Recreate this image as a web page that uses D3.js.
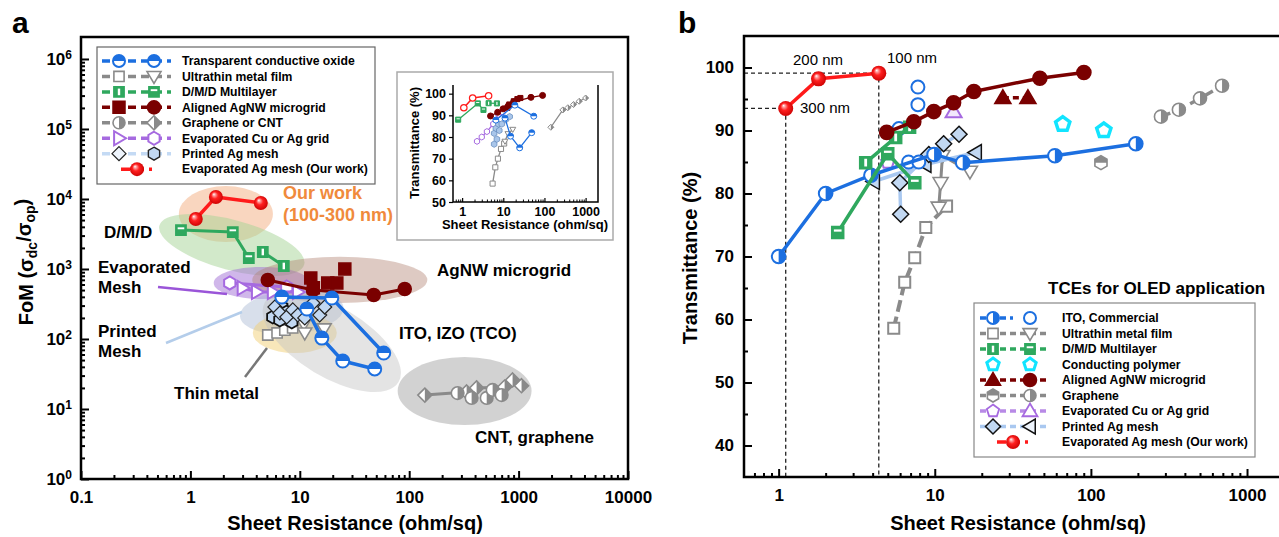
<!DOCTYPE html>
<html><head><meta charset="utf-8">
<script src="https://cdn.jsdelivr.net/npm/d3@7"></script>
<style>body{margin:0;background:#fff}svg{display:block}text{font-family:"Liberation Sans",Arial,sans-serif}</style>
</head><body><svg id="c" width="1279" height="537"></svg>
<script>
// ================= Panel a: FoM vs sheet resistance =================
const aOurR=[1.12,1.71,4.4], aOurF=[5170,10700,8770];
const aDmdVR=[4.59,7.14], aDmdVF=[1750,1104];
const aDmdHR=[0.82,2.44,3.42], aDmdHF=[3600,3370,1436];
const aTco1R=[6.85,19.6,58.5], aTco1F=[398,385,63];
const aTco2R=[11.6,15.9,24.7,48.4], aTco2F=[268,103,48.5,37.3];
const aAgCircR=[5.1,13.2,47.4,91], aAgCircF=[697,500,425,518];
const aAgSqR=[12.6,13.3,18,21.8,25.8], aAgSqF=[744,540,631,631,1000];
const aThinSqR=[5.1,6.2,7.3,8.6], aThinSqF=[114,122,134,144];
const aThinTriR=[10.9,11.1,16.7], aThinTriF=[164,122,140];
const aPrDiaR=[5.92,6.57,7.6,8.63,9.59,11.1,13.2,15.2,16.9], aPrDiaF=[286,235,206,260,220,200,327,220,286];
const aPrHexR=[5.66,6.57,6.85,7.6,8.45], aPrHexF=[206,187,286,243,175];
const aEvTriR=[3.0,4.05,5.66,9.6], aEvTriF=[535,469,469,469];
const aEvHexR=[2.29,7.6], aEvHexF=[631,553];
const aGrCircR=[277,372,511,579,700], aGrCircF=[16.9,14.4,14.4,18.7,15.8];
const aCntDiaR=[139,335,413,745,881,1064], aCntDiaF=[15.8,17.5,20,20.6,26,21.5];
// category ellipses (center R, center FoM, radii in decades, rotation deg)
const ellCR=[2.11,2.39,4.5,23.2,8.45,9.0,19.6,321];
const ellCF=[6100,2200,631,697,243,122,90.6,18.1];
const ellRX=[0.43,0.685,0.44,0.80,0.475,0.384,0.712,0.612];
const ellRY=[0.40,0.357,0.23,0.33,0.314,0.286,0.50,0.486];
const ellRot=[0,15,0,0,-5,0,31,0];
const ellCol=['#f4ae80','#a6d496','#a270d6','#b08070','#a9b9d2','#f2d075','#c4c4c4','#b4b4b4'];
const ellOp=[0.5,0.5,0.5,0.42,0.45,0.5,0.45,0.6];
const aXTicks=[0.1,1,10,100,1000,10000];
const aYTicks=[1,10,100,1e3,1e4,1e5,1e6];
// inset: transmittance vs sheet resistance
const iOurR=[1.1,1.8,4.4], iOurT=[93.5,98,99];
const iDmdHR=[0.8,2.4,3.3], iDmdHT=[88,95.5,92.5];
const iDmdVR=[4.4,7.0], iDmdVT=[95.6,95.5];
const iAgCircR=[4.9,7.3,9.9,13.2,17.8,47,90], iAgCircT=[89.7,91.4,93,94.4,96.2,98.3,99.2];
const iAgSqR=[12.6,14,18,22,26], iAgSqT=[93.5,95,96.5,97.5,98];
const iTco1R=[6.6,19.1,55], iTco1T=[87.8,94.7,89.6];
const iTco2R=[11,15,25,49], iTco2T=[88.7,80.4,75,82];
const iThinSqR=[5.5,6.4,7.4,8.8,10.5], iThinSqT=[58.5,66,70,74.5,77];
const iThinTriR=[11,13,17], iThinTriT=[78,81.5,83.5];
const iEvR=[2.3,3,4,5.7,7.6,9.6], iEvT=[78,80,82.5,86,90.5,91.5];
const iPrR=[6,6,6.6,7,7.6,8,9.2,11.4,14.3], iPrT=[76.7,81.7,84,79,86,83,86,88,89.4];
const iCntR=[143,280,370,510,700,1000], iCntT=[84.5,92.5,93.5,95,96.5,98];
const iXTicks=[1,10,100,1000], iYTicks=[50,60,70,80,90,100];
// ================= Panel b: transmittance vs sheet resistance =================
const bOurR=[1.11,1.8,4.38], bOurT=[93.5,98.2,99.1];
const bItoR=[1,2,3.9,9.9,15.1,58.8,194], bItoT=[70,80,82.9,86.2,84.9,86,87.9];
const bItoCR=[7.8,7.8,5.9,6.8,7.9], bItoCT=[96.9,94.1,90.3,85,85];
const bThinSqR=[5.46,6.42,7.44,8.76,11.9], bThinSqT=[58.6,65.9,69.8,74.6,78];
const bThinTriR=[10.6,10.9,11.2,16.8], bThinTriT=[77.8,81.7,86,83.5];
const bDmdVR=[3.61,5.62,6.9], bDmdVT=[84.9,88.9,90.5];
const bDmdHR=[2.39,5.0,7.45], bDmdHT=[73.8,86.3,81.7];
const bCpR=[66,121], bCpT=[91,90];
const bAgCircR=[4.92,7.34,9.86,13.2,17.8,47.1,90.2], bAgCircT=[89.7,91.4,93,94.4,96.2,98.3,99.2];
const bAgTriR=[27.3,39.5], bAgTriT=[95.2,95.2];
const bGrCircR=[281,366,500,692], bGrCircT=[92.2,93.3,95.1,97.1];
const bGrHexR=[116], bGrHexT=[84.9];
const bEvPentR=[5.0], bEvPentT=[85];
const bEvTriR=[13.2], bEvTriT=[93];
const bPrDiaR=[6.05,5.97,9.16,11.4,14.3], bPrDiaT=[76.7,81.7,86.2,87.9,89.4];
const bPrTriR=[4.07,8.7,18.3], bPrTriT=[81.9,84.6,86.5];
const bXTicks=[1,10,100,1000];
const bYTicks=[40,50,60,70,80,90,100];

// ---------------- colours ----------------
const C={blue:'#1c6fe0',grey:'#8a8a8a',green:'#2fa85e',dred:'#7a0000',purple:'#a66ae0',lblue:'#c2d8f2',lbline:'#a9c8f0',red:'#ff1a1a',cyan:'#12e4ff',orange:'#f08a3c'};

const svg=d3.select('#c');
const defs=svg.append('defs');
[['cTop',-50,-50,100,50],['cLeft',-50,-50,50,100],['cRight',0,-50,50,100]].forEach(([id,x,y,w,h])=>{
  defs.append('clipPath').attr('id',id).append('rect').attr('x',x).attr('y',y).attr('width',w).attr('height',h);
});
const g0=defs.append('radialGradient').attr('id','sph').attr('cx','50%').attr('cy','50%').attr('r','55%').attr('fx','35%').attr('fy','30%');
[['0%','#ffffff'],['18%','#ff9a9a'],['45%','#ff2020'],['100%','#c80000']].forEach(([o,c])=>g0.append('stop').attr('offset',o).attr('stop-color',c));

function polyPts(n,r,rot){const p=[];for(let k=0;k<n;k++){const a=(rot+360*k/n)*Math.PI/180;p.push([r*Math.cos(a),r*Math.sin(a)]);}return 'M'+p.map(q=>q[0].toFixed(2)+','+q[1].toFixed(2)).join('L')+'Z';}
function shapePath(s,r){
  switch(s){
    case 'circle': return `M${-r},0A${r},${r} 0 1,0 ${r},0A${r},${r} 0 1,0 ${-r},0Z`;
    case 'square': {const a=r*0.85;return `M${-a},${-a}H${a}V${a}H${-a}Z`;}
    case 'triDown': return `M${-r},${-r*0.7}L${r},${-r*0.7}L0,${r}Z`;
    case 'triUp': return `M${-r},${r*0.7}L${r},${r*0.7}L0,${-r}Z`;
    case 'triRight': return `M${-r*0.7},${-r}L${-r*0.7},${r}L${r},0Z`;
    case 'triLeft': return `M${r*0.7},${-r}L${r*0.7},${r}L${-r},0Z`;
    case 'diamond': return `M0,${-r}L${r},0L0,${r}L${-r},0Z`;
    case 'hexagon': return polyPts(6,r,-90);
    case 'pentagon': return polyPts(5,r,-90);
  }
}
function drawMarker(g,x,y,m){
  const gg=g.append('g').attr('transform',`translate(${x},${y})`);
  const r=m.r;
  if(m.fill==='sphere'){gg.append('circle').attr('r',r).attr('fill','url(#sph)');return;}
  const d=shapePath(m.shape,r);
  const solid=(m.fill==='full'||m.fill==='vbar'||m.fill==='hbar');
  gg.append('path').attr('d',d).attr('fill',solid?m.color:(m.bg||'#fff'));
  if(m.fill==='halfTop')gg.append('path').attr('d',d).attr('fill',m.color).attr('clip-path','url(#cTop)');
  if(m.fill==='halfLeft')gg.append('path').attr('d',d).attr('fill',m.color).attr('clip-path','url(#cLeft)');
  if(m.fill==='halfRight')gg.append('path').attr('d',d).attr('fill',m.color).attr('clip-path','url(#cRight)');
  if(m.fill==='vbar')gg.append('rect').attr('x',-r*0.2).attr('y',-r*0.55).attr('width',r*0.4).attr('height',r*1.1).attr('fill','#fff');
  if(m.fill==='hbar')gg.append('rect').attr('x',-r*0.55).attr('y',-r*0.45).attr('width',r*1.1).attr('height',r*0.32).attr('fill','#fff');
  gg.append('path').attr('d',d).attr('fill','none').attr('stroke',m.stroke||m.color).attr('stroke-width',m.sw||1.6);
}
function drawSeries(g,xs,ys,R,V,mk,ln){
  const pts=R.map((r,i)=>[xs(r),ys(V[i])]);
  if(ln){g.append('path').attr('d',d3.line()(pts)).attr('fill','none').attr('stroke',ln.color).attr('stroke-width',ln.w||3).attr('stroke-dasharray',ln.dash||null).attr('stroke-linejoin','round');}
  pts.forEach(p=>drawMarker(g,p[0],p[1],mk));
}
function logMinor(lo,hi){const a=[];for(let e=Math.floor(Math.log10(lo));e<Math.ceil(Math.log10(hi));e++)for(let k=2;k<=9;k++){const v=k*Math.pow(10,e);if(v>lo*1.0001&&v<hi)a.push(v);}return a;}
function styleAxis(g,fs){g.select('.domain').remove();g.selectAll('.tick line').attr('stroke','#000').attr('stroke-width',2);g.selectAll('text').attr('font-size',fs).attr('font-weight','bold').attr('fill','#000').attr('font-family','"Liberation Sans",Arial,sans-serif');}
function txt(g,x,y,s,o={}){return g.append('text').attr('x',x).attr('y',y).attr('font-size',o.fs||16).attr('font-weight',o.fw||'bold').attr('fill',o.color||'#000').attr('text-anchor',o.anchor||'start').text(s);}

// ================= Panel a =================
const A={l:81,r:628,t:37,b:479};
const xa=d3.scaleLog().domain([0.1,10000]).range([A.l,A.r]);
const ya=d3.scaleLog().domain([1,Math.pow(10,6.314)]).range([A.b,A.t]);
const decX=(A.r-A.l)/5, decY=ya(1)-ya(10);
const pa=svg.append('g');
// ellipses
const ge=pa.append('g');
ellCR.forEach((cr,i)=>{
  const cx=xa(cr),cy=ya(ellCF[i]);
  ge.append('ellipse').attr('cx',0).attr('cy',0).attr('rx',ellRX[i]*decX).attr('ry',ellRY[i]*decY)
    .attr('transform',`translate(${cx},${cy}) rotate(${ellRot[i]})`).attr('fill',ellCol[i]).attr('fill-opacity',ellOp[i]);
});
// pointer lines for labels
pa.append('line').attr('x1',158).attr('y1',287).attr('x2',227).attr('y2',294).attr('stroke','#9a55d8').attr('stroke-width',2.5);
pa.append('line').attr('x1',166).attr('y1',343).attr('x2',242).attr('y2',312).attr('stroke','#b4cdea').attr('stroke-width',2.5);
pa.append('line').attr('x1',245).attr('y1',377).attr('x2',267).attr('y2',348).attr('stroke','#777').attr('stroke-width',2.5);
// series
const sa=pa.append('g');
drawSeries(sa,xa,ya,aCntDiaR,aCntDiaF,{shape:'diamond',r:7,color:C.grey,fill:'halfRight'},{color:C.grey,w:3});
drawSeries(sa,xa,ya,aGrCircR,aGrCircF,{shape:'circle',r:6.3,color:C.grey,fill:'halfRight'},null);
drawSeries(sa,xa,ya,aThinSqR,aThinSqF,{shape:'square',r:6,color:C.grey,fill:'open'},{color:C.grey,w:2.5});
drawSeries(sa,xa,ya,aThinTriR,aThinTriF,{shape:'triDown',r:7,color:C.grey,fill:'open'},null);
drawSeries(sa,xa,ya,aPrHexR,aPrHexF,{shape:'hexagon',r:6.5,color:'#111',fill:'open',bg:C.lblue,sw:1.8},null);
drawSeries(sa,xa,ya,aPrDiaR,aPrDiaF,{shape:'diamond',r:7,color:'#222',fill:'open',bg:C.lblue,sw:1.2},null);
drawSeries(sa,xa,ya,aEvHexR,aEvHexF,{shape:'hexagon',r:6.5,color:C.purple,fill:'open',sw:2},{color:C.purple,w:3});
drawSeries(sa,xa,ya,aEvTriR,aEvTriF,{shape:'triRight',r:7,color:C.purple,fill:'open',sw:2},{color:C.purple,w:3});
drawSeries(sa,xa,ya,aAgSqR,aAgSqF,{shape:'square',r:7,color:C.dred,fill:'full'},null);
drawSeries(sa,xa,ya,aAgCircR,aAgCircF,{shape:'circle',r:6.5,color:C.dred,fill:'full'},{color:C.dred,w:3});
drawSeries(sa,xa,ya,aTco1R,aTco1F,{shape:'circle',r:6.5,color:C.blue,fill:'halfTop',sw:2},{color:C.blue,w:3.5});
drawSeries(sa,xa,ya,aTco2R,aTco2F,{shape:'circle',r:6.5,color:C.blue,fill:'halfTop',sw:2},{color:C.blue,w:3.5});
drawSeries(sa,xa,ya,aDmdHR,aDmdHF,{shape:'square',r:6,color:C.green,fill:'hbar'},{color:C.green,w:3});
drawSeries(sa,xa,ya,aDmdVR,aDmdVF,{shape:'square',r:6,color:C.green,fill:'vbar'},{color:C.green,w:3});
drawSeries(sa,xa,ya,aOurR,aOurF,{r:7,fill:'sphere'},{color:C.red,w:3.5});
// annotations
txt(pa,283,199,'Our work',{fs:18,color:C.orange});
txt(pa,283,221,'(100-300 nm)',{fs:18,color:C.orange});
txt(pa,104,238,'D/M/D',{fs:17});
txt(pa,98,273,'Evaporated',{fs:17});txt(pa,98,293,'Mesh',{fs:17});
txt(pa,98,337,'Printed',{fs:17});txt(pa,98,357,'Mesh',{fs:17});
txt(pa,174,399,'Thin metal',{fs:17});
txt(pa,437,276,'AgNW microgrid',{fs:17});
txt(pa,399,339,'ITO, IZO (TCO)',{fs:17});
txt(pa,475,443,'CNT, graphene',{fs:17});
// frame + axes
pa.append('rect').attr('x',A.l).attr('y',A.t).attr('width',A.r-A.l).attr('height',A.b-A.t).attr('fill','none').attr('stroke','#000').attr('stroke-width',2.5);
const gxa=pa.append('g').attr('transform',`translate(0,${A.b})`).call(d3.axisBottom(xa).tickValues(aXTicks).tickFormat(d=>String(d)).tickSize(-8).tickPadding(12));
styleAxis(gxa,17);
const gxam=pa.append('g').attr('transform',`translate(0,${A.b})`).call(d3.axisBottom(xa).tickValues(logMinor(0.1,10000)).tickFormat('').tickSize(-4));
styleAxis(gxam,1);
const gya=pa.append('g').attr('transform',`translate(${A.l},0)`).call(d3.axisLeft(ya).tickValues(aYTicks).tickFormat('').tickSize(-8).tickPadding(9));
styleAxis(gya,17);
gya.selectAll('.tick').each(function(d){
  const t=d3.select(this).append('text').attr('x',-9).attr('y',0).attr('dy','0.35em').attr('text-anchor','end').attr('font-size',17).attr('font-weight','bold').attr('fill','#000');
  t.append('tspan').text('10');
  t.append('tspan').attr('dy','-0.55em').attr('font-size',12).text(Math.round(Math.log10(d)));
});
const gyam=pa.append('g').attr('transform',`translate(${A.l},0)`).call(d3.axisLeft(ya).tickValues(logMinor(1,1e6)).tickFormat('').tickSize(-4));
styleAxis(gyam,1);
txt(pa,355,530,'Sheet Resistance (ohm/sq)',{fs:20,anchor:'middle'});
const yla=pa.append('text').attr('transform','translate(33,262) rotate(-90)').attr('text-anchor','middle').attr('font-size',20).attr('font-weight','bold');
yla.append('tspan').text('FoM (σ');
yla.append('tspan').attr('dy','0.3em').attr('font-size',14).text('dc');
yla.append('tspan').attr('dy','-0.3em').text('/σ');
yla.append('tspan').attr('dy','0.3em').attr('font-size',14).text('op');
yla.append('tspan').attr('dy','-0.3em').text(')');
txt(svg,12,33,'a',{fs:30});

// legend a
const LA=pa.append('g');
LA.append('rect').attr('x',97).attr('y',47).attr('width',278).attr('height',137).attr('fill','#fff').attr('stroke','#666').attr('stroke-width',1.2);
const legA=[
 ['Transparent conductive oxide',C.blue,{shape:'circle',r:6,color:C.blue,fill:'halfTop',sw:2},{shape:'circle',r:6,color:C.blue,fill:'halfTop',sw:2}],
 ['Ultrathin metal film',C.grey,{shape:'square',r:6,color:C.grey,fill:'open'},{shape:'triDown',r:7,color:C.grey,fill:'open'}],
 ['D/M/D Multilayer',C.green,{shape:'square',r:6,color:C.green,fill:'vbar'},{shape:'square',r:6,color:C.green,fill:'hbar'}],
 ['Aligned AgNW microgrid',C.dred,{shape:'square',r:7,color:C.dred,fill:'full'},{shape:'circle',r:6.5,color:C.dred,fill:'full'}],
 ['Graphene or CNT',C.grey,{shape:'circle',r:6,color:C.grey,fill:'halfRight'},{shape:'diamond',r:7,color:C.grey,fill:'halfRight'}],
 ['Evaporated Cu or Ag grid',C.purple,{shape:'triRight',r:7,color:C.purple,fill:'open',sw:2},{shape:'hexagon',r:6.5,color:C.purple,fill:'open',sw:2}],
 ['Printed Ag mesh','#c4daf4',{shape:'diamond',r:7,color:'#222',fill:'open',bg:'#eef4fc',sw:1.2},{shape:'hexagon',r:6.5,color:'#222',fill:'open',bg:C.lblue,sw:1.4}],
 ['Evaporated Ag mesh (Our work)',C.red,{r:7,fill:'sphere'},null]
];
legA.forEach((row,i)=>{
  const y=61+i*15.45;
  if(row[3]){LA.append('line').attr('x1',102).attr('x2',171).attr('y1',y).attr('y2',y).attr('stroke',row[1]).attr('stroke-width',3.5).attr('stroke-dasharray','8,5');
    drawMarker(LA,119,y,row[2]);drawMarker(LA,154,y,row[3]);}
  else{LA.append('line').attr('x1',121).attr('x2',152).attr('y1',y).attr('y2',y).attr('stroke',row[1]).attr('stroke-width',3.5).attr('stroke-dasharray','9,5');drawMarker(LA,137,y,row[2]);}
  txt(LA,182,y+4.3,row[0],{fs:12.2});
});

// inset
const I={l:453,r:598,t:85,b:202};
const xi=d3.scaleLog().domain([0.6,2000]).range([I.l,I.r]);
const yi=d3.scaleLinear().domain([50,104]).range([I.b,I.t]);
const pi=svg.append('g');
pi.append('rect').attr('x',397).attr('y',72).attr('width',216).attr('height',168).attr('fill','#fff').attr('stroke','#aaa').attr('stroke-width',1.5);
const si=pi.append('g');
const sm=(shape,color,fill,bg)=>({shape,r:3,color,fill,bg,sw:1});
drawSeries(si,xi,yi,iCntR,iCntT,sm('diamond',C.grey,'halfRight'),{color:C.grey,w:1.3});
drawSeries(si,xi,yi,iThinSqR,iThinSqT,sm('square',C.grey,'open'),{color:C.grey,w:1.3});
drawSeries(si,xi,yi,iThinTriR,iThinTriT,sm('triDown',C.grey,'open'),{color:C.grey,w:1.3});
drawSeries(si,xi,yi,iEvR,iEvT,sm('hexagon',C.purple,'open'),{color:C.purple,w:1.3});
drawSeries(si,xi,yi,iPrR,iPrT,{shape:'hexagon',r:3.2,color:'#6a8fc0',fill:'open',bg:'#a9c6ea',sw:0.8},null);
drawSeries(si,xi,yi,iAgSqR,iAgSqT,sm('square',C.dred,'full'),null);
drawSeries(si,xi,yi,iAgCircR,iAgCircT,sm('circle',C.dred,'full'),{color:C.dred,w:1.3});
drawSeries(si,xi,yi,iTco1R,iTco1T,sm('circle',C.blue,'halfTop'),{color:C.blue,w:1.3});
drawSeries(si,xi,yi,iTco2R,iTco2T,sm('circle',C.blue,'halfTop'),{color:C.blue,w:1.3});
drawSeries(si,xi,yi,iDmdHR,iDmdHT,sm('square',C.green,'hbar'),{color:C.green,w:1.3});
drawSeries(si,xi,yi,iDmdVR,iDmdVT,sm('square',C.green,'vbar'),{color:C.green,w:1.3});
drawSeries(si,xi,yi,iOurR,iOurT,{shape:'circle',r:3.2,color:C.red,fill:'open',sw:1.2},{color:C.red,w:1.5});
pi.append('path').attr('d',`M${I.l},${I.t}V${I.b}H${I.r}V${I.t}`).attr('fill','none').attr('stroke','#000').attr('stroke-width',1.5);
const gxi=pi.append('g').attr('transform',`translate(0,${I.b})`).call(d3.axisBottom(xi).tickValues(iXTicks).tickFormat(d=>String(d)).tickSize(-4).tickPadding(5));
styleAxis(gxi,12.5);gxi.selectAll('.tick line').attr('stroke-width',1.2);
const gxim=pi.append('g').attr('transform',`translate(0,${I.b})`).call(d3.axisBottom(xi).tickValues(logMinor(0.6,2000)).tickFormat('').tickSize(-2.5));
styleAxis(gxim,1);gxim.selectAll('.tick line').attr('stroke-width',1);
const gyi=pi.append('g').attr('transform',`translate(${I.l},0)`).call(d3.axisLeft(yi).tickValues(iYTicks).tickFormat(d=>String(d)).tickSize(4).tickPadding(3));
styleAxis(gyi,12.5);gyi.selectAll('.tick line').attr('stroke-width',1.2);
txt(pi,525,229,'Sheet Resistance (ohm/sq)',{fs:13,anchor:'middle'});
pi.append('text').attr('transform','translate(419,143) rotate(-90)').attr('text-anchor','middle').attr('font-size',13).attr('font-weight','bold').text('Transmittance (%)');

// ================= Panel b =================
const B={l:744,r:1283,t:36,b:477};
const xb=d3.scaleLog().domain([0.6,1700]).range([B.l,B.r]);
const yb=d3.scaleLinear().domain([35,105]).range([B.b,B.t]);
const pb=svg.append('g');
// dashed guide lines to our samples
[0,2].forEach(i=>{
  const x=xb(bOurR[i]),y=yb(bOurT[i]);
  pb.append('path').attr('d',`M${B.l},${y}H${x}V${B.b}`).attr('fill','none').attr('stroke','#222').attr('stroke-width',1.3).attr('stroke-dasharray','4,3');
});
const sb=pb.append('g');
drawSeries(sb,xb,yb,bGrCircR,bGrCircT,{shape:'circle',r:6.5,color:C.grey,fill:'halfRight'},{color:C.grey,w:3.5,dash:'10,6'});
drawSeries(sb,xb,yb,bGrHexR,bGrHexT,{shape:'hexagon',r:7,color:C.grey,fill:'halfTop'},null);
drawSeries(sb,xb,yb,bThinSqR,bThinSqT,{shape:'square',r:6.5,color:C.grey,fill:'open',sw:2},{color:C.grey,w:4,dash:'12,5'});
drawSeries(sb,xb,yb,bThinTriR,bThinTriT,{shape:'triDown',r:7.5,color:C.grey,fill:'open',sw:1.6},{color:C.grey,w:3});
drawSeries(sb,xb,yb,bPrTriR,bPrTriT,{shape:'triLeft',r:8,color:'#111',fill:'open',bg:C.lblue,sw:1.5},{color:C.lbline,w:3.5});
drawSeries(sb,xb,yb,bPrDiaR,bPrDiaT,{shape:'diamond',r:8,color:'#111',fill:'open',bg:C.lblue,sw:1.5},{color:C.lbline,w:3.5});
drawSeries(sb,xb,yb,bEvPentR,bEvPentT,{shape:'pentagon',r:7,color:C.purple,fill:'open',sw:2},null);
drawSeries(sb,xb,yb,bEvTriR,bEvTriT,{shape:'triUp',r:8,color:C.purple,fill:'open',sw:2,bg:'#f2e8fc'},null);
drawSeries(sb,xb,yb,bItoCR,bItoCT,{shape:'circle',r:6.5,color:C.blue,fill:'open',sw:2},null);
drawSeries(sb,xb,yb,bItoR,bItoT,{shape:'circle',r:6.8,color:C.blue,fill:'halfRight',sw:2},{color:C.blue,w:3.5});
drawSeries(sb,xb,yb,bDmdHR,bDmdHT,{shape:'square',r:7,color:C.green,fill:'hbar'},{color:C.green,w:3.5});
drawSeries(sb,xb,yb,bDmdVR,bDmdVT,{shape:'square',r:7,color:C.green,fill:'vbar'},{color:C.green,w:3.5});
drawSeries(sb,xb,yb,bAgCircR,bAgCircT,{shape:'circle',r:7,color:C.dred,fill:'full'},{color:C.dred,w:3.5});
drawSeries(sb,xb,yb,bAgTriR,bAgTriT,{shape:'triUp',r:8,color:C.dred,fill:'full'},{color:C.dred,w:3.5,dash:'6,4'});
drawSeries(sb,xb,yb,bCpR,bCpT,{shape:'pentagon',r:7.5,color:C.cyan,fill:'open',sw:3.5},null);
drawSeries(sb,xb,yb,bOurR,bOurT,{r:7.5,fill:'sphere'},{color:C.red,w:3.5});
txt(pb,793,65,'200 nm',{fs:15,fw:'normal'});
txt(pb,887,63,'100 nm',{fs:15,fw:'normal'});
txt(pb,800,113,'300 nm',{fs:15,fw:'normal'});
// frame + axes
pb.append('path').attr('d',`M${B.r},${B.t}H${B.l}V${B.b}H${B.r}`).attr('fill','none').attr('stroke','#000').attr('stroke-width',2.5);
const gxb=pb.append('g').attr('transform',`translate(0,${B.b})`).call(d3.axisBottom(xb).tickValues(bXTicks).tickFormat(d=>String(d)).tickSize(-8).tickPadding(12));
styleAxis(gxb,17);
const gxbm=pb.append('g').attr('transform',`translate(0,${B.b})`).call(d3.axisBottom(xb).tickValues(logMinor(0.6,1700)).tickFormat('').tickSize(-4));
styleAxis(gxbm,1);
const gyb=pb.append('g').attr('transform',`translate(${B.l},0)`).call(d3.axisLeft(yb).tickValues(bYTicks).tickFormat(d=>String(d)).tickSize(-8).tickPadding(10));
styleAxis(gyb,17);
const gybm=pb.append('g').attr('transform',`translate(${B.l},0)`).call(d3.axisLeft(yb).tickValues([45,55,65,75,85,95]).tickFormat('').tickSize(-4));
styleAxis(gybm,1);
txt(pb,1018,530,'Sheet Resistance (ohm/sq)',{fs:20,anchor:'middle'});
pb.append('text').attr('transform','translate(697,258) rotate(-90)').attr('text-anchor','middle').attr('font-size',20).attr('font-weight','bold').text('Transmittance (%)');
txt(svg,678,33,'b',{fs:30});
// legend b
const LB=pb.append('g');
txt(LB,1048,294,'TCEs for OLED application',{fs:17});
LB.append('rect').attr('x',974).attr('y',303).attr('width',281).attr('height',154).attr('fill','#fff').attr('stroke','#888').attr('stroke-width',1.2);
const legB=[
 ['ITO, Commercial',C.blue,{shape:'circle',r:6,color:C.blue,fill:'halfRight',sw:2},{shape:'circle',r:6,color:C.blue,fill:'open',sw:2},'one'],
 ['Ultrathin metal film',C.grey,{shape:'square',r:6,color:C.grey,fill:'open'},{shape:'triDown',r:7,color:C.grey,fill:'open'},'both'],
 ['D/M/D Multilayer',C.green,{shape:'square',r:6,color:C.green,fill:'vbar'},{shape:'square',r:6,color:C.green,fill:'hbar'},'both'],
 ['Conducting polymer',C.cyan,{shape:'pentagon',r:6.5,color:C.cyan,fill:'open',sw:3},{shape:'pentagon',r:6.5,color:C.cyan,fill:'open',sw:3},'none'],
 ['Aligned AgNW microgrid',C.dred,{shape:'triUp',r:7.5,color:C.dred,fill:'full'},{shape:'circle',r:6.5,color:C.dred,fill:'full'},'both'],
 ['Graphene',C.grey,{shape:'hexagon',r:6.5,color:C.grey,fill:'halfTop'},{shape:'circle',r:6,color:C.grey,fill:'halfRight'},'both'],
 ['Evaporated Cu or Ag grid','#b88ae6',{shape:'pentagon',r:6.5,color:C.purple,fill:'open',sw:1.8},{shape:'triUp',r:7.5,color:C.purple,fill:'open',sw:1.8},'both'],
 ['Printed Ag mesh',C.lbline,{shape:'diamond',r:7.5,color:'#111',fill:'open',bg:C.lblue,sw:1.5},{shape:'triLeft',r:7.5,color:'#111',fill:'open',bg:'#eef4fc',sw:1.5},'both'],
 ['Evaporated Ag mesh (Our work)',C.red,{r:7,fill:'sphere'},null,'our']
];
legB.forEach((row,i)=>{
  const y=318+i*15.5;
  if(row[4]==='both'||row[4]==='one'){
    LB.append('line').attr('x1',980).attr('x2',row[4]==='one'?1013:1046).attr('y1',y).attr('y2',y).attr('stroke',row[1]).attr('stroke-width',3.5).attr('stroke-dasharray','6,4');
  }
  if(row[4]==='our'){LB.append('line').attr('x1',997).attr('x2',1028).attr('y1',y).attr('y2',y).attr('stroke',row[1]).attr('stroke-width',3.5).attr('stroke-dasharray','9,5');drawMarker(LB,1013,y,row[2]);}
  else{drawMarker(LB,993,y,row[2]);drawMarker(LB,1030,y,row[3]);}
  txt(LB,1062,y+4.3,row[0],{fs:12.2});
});
</script></body></html>
